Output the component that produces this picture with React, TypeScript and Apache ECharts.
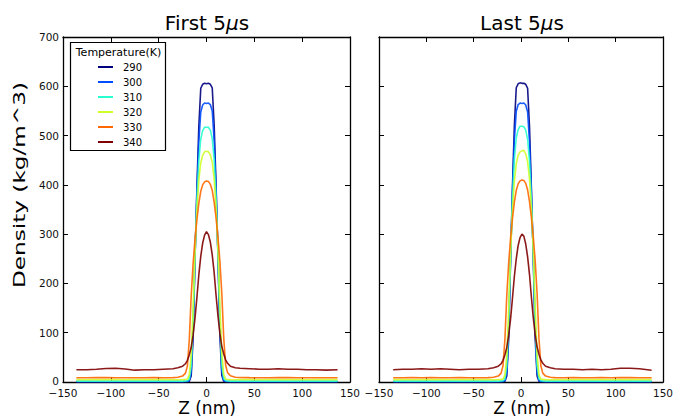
import React, { useEffect, useRef } from 'react';
import * as echarts from 'echarts';

const temps = ['290', '300', '310', '320', '330', '340'];
const colors = ['#00007f', '#004cff', '#29ffce', '#ceff29', '#ff6800', '#7f0000'];
const panelTitles = ['First 5', 'Last 5'];
const xLabel = 'Z (nm)';
const yLabel = 'Density (kg/m^3)';
const legendTitle = 'Temperature(K)';

const zFirst = [-136, -125, -115, -105, -95, -85, -75, -65, -55, -45, -35,
  -30, -25, -22, -20, -18, -16, -14, -12, -10, -8, -6, -4, -2, 0,
  2, 4, 6, 8, 10, 12, 14, 16, 18, 20, 22, 25, 30,
  35, 45, 55, 65, 75, 85, 95, 105, 115, 125, 137];

const zLast = [-135, -125, -115, -105, -95, -85, -75, -65, -55, -45, -35,
  -29, -24, -21, -19, -17, -15, -13, -11, -9, -7, -5, -3, -1, 1,
  3, 5, 7, 9, 11, 13, 15, 17, 19, 21, 23, 26, 31,
  36, 45, 55, 65, 75, 85, 95, 105, 115, 125, 138];

const first290 = [0.3, 0.3, 0.4, 0.3, 0.3, 0.3, 0.4, 0.3, 0.3, 0.3, 0.3,
  0.3, 0.3, 0.4, 0.5, 1.5, 12, 90, 250, 395, 520, 596, 604, 606, 605,
  606, 604, 597, 522, 398, 255, 95, 13, 1.6, 0.5, 0.4, 0.3, 0.3,
  0.3, 0.3, 0.3, 0.4, 0.3, 0.3, 0.3, 0.3, 0.4, 0.3, 0.3];
const first300 = [0.8, 0.8, 0.9, 0.8, 0.8, 0.8, 0.9, 0.8, 0.8, 0.8, 0.8,
  0.8, 0.8, 0.9, 1.2, 3, 20, 105, 255, 385, 488, 548, 562, 566, 565,
  566, 563, 550, 490, 388, 260, 110, 22, 3.2, 1.2, 0.9, 0.8, 0.8,
  0.8, 0.8, 0.8, 0.9, 0.8, 0.8, 0.8, 0.8, 0.9, 0.8, 0.8];
const first310 = [1.8, 1.8, 1.9, 1.8, 1.8, 1.8, 1.9, 1.8, 1.8, 1.8, 1.8,
  1.8, 1.8, 2, 2.5, 6, 32, 120, 260, 370, 450, 493, 510, 517, 517,
  517, 511, 494, 452, 373, 265, 125, 35, 6.5, 2.6, 2, 1.8, 1.8,
  1.8, 1.8, 1.9, 1.8, 1.8, 1.8, 1.9, 1.8, 1.8, 1.8, 1.8];
const first320 = [4.8, 4.7, 4.8, 4.9, 4.8, 4.7, 4.8, 4.8, 4.9, 4.8, 4.7,
  4.7, 4.8, 5.1, 6, 14, 55, 150, 265, 350, 410, 445, 460, 467, 468,
  467, 461, 446, 412, 353, 270, 155, 58, 15, 6.2, 5.2, 4.8, 4.7,
  4.8, 4.8, 4.7, 4.8, 4.9, 4.8, 4.8, 4.7, 4.8, 4.8, 4.8];
const first330 = [8.6, 8.7, 8.9, 8.8, 8.6, 8.7, 8.5, 8.6, 8.8, 8.7, 8.9,
  9.5, 12, 18, 32, 85, 175, 240, 290, 330, 363, 387, 400, 406, 408,
  407, 401, 389, 365, 333, 293, 245, 180, 90, 34, 19, 12.5, 9.6,
  9, 8.8, 8.7, 8.6, 8.8, 8.9, 8.7, 8.6, 8.5, 8.7, 8.6];
const first340 = [25, 25, 26, 27.5, 28, 26.5, 24, 25, 25, 26, 27,
  29, 32, 37, 44, 55, 70, 95, 130, 172, 218, 255, 282, 298, 305,
  299, 284, 258, 222, 176, 134, 98, 72, 57, 45, 38, 32, 29,
  28, 27, 26, 26, 27, 26, 26, 25, 25, 24, 25];

const last290 = [0.3, 0.3, 0.3, 0.4, 0.3, 0.3, 0.3, 0.3, 0.4, 0.3, 0.3,
  0.3, 0.3, 0.4, 0.5, 1.5, 12, 88, 248, 395, 520, 597, 605, 607, 606,
  606, 604, 596, 518, 392, 250, 90, 12, 1.5, 0.5, 0.4, 0.3, 0.3,
  0.3, 0.4, 0.3, 0.3, 0.3, 0.3, 0.4, 0.3, 0.3, 0.3, 0.3];
const last300 = [0.8, 0.8, 0.8, 0.9, 0.8, 0.8, 0.8, 0.8, 0.9, 0.8, 0.8,
  0.8, 0.8, 0.9, 1.2, 3, 20, 104, 252, 385, 490, 549, 563, 566, 565,
  566, 562, 548, 486, 382, 255, 105, 20, 3, 1.2, 0.9, 0.8, 0.8,
  0.8, 0.9, 0.8, 0.8, 0.8, 0.8, 0.9, 0.8, 0.8, 0.8, 0.8];
const last310 = [1.8, 1.8, 1.8, 1.9, 1.8, 1.8, 1.8, 1.9, 1.8, 1.8, 1.8,
  1.8, 1.8, 2, 2.5, 6, 32, 118, 258, 370, 452, 495, 512, 519, 519,
  518, 511, 492, 448, 368, 260, 122, 33, 6.2, 2.5, 2, 1.8, 1.8,
  1.8, 1.8, 1.9, 1.8, 1.8, 1.8, 1.8, 1.9, 1.8, 1.8, 1.8];
const last320 = [4.8, 4.8, 4.7, 4.8, 4.9, 4.8, 4.7, 4.8, 4.8, 4.9, 4.8,
  4.7, 4.8, 5.1, 6, 14, 54, 148, 262, 348, 408, 443, 460, 467, 469,
  470, 463, 447, 411, 352, 268, 152, 57, 14, 6, 5.1, 4.8, 4.7,
  4.8, 4.7, 4.8, 4.8, 4.9, 4.8, 4.7, 4.8, 4.8, 4.9, 4.8];
const last330 = [8.7, 8.6, 8.8, 8.7, 8.9, 8.6, 8.7, 8.8, 8.6, 8.7, 8.8,
  9.5, 12, 18, 33, 86, 176, 242, 292, 332, 365, 389, 402, 408, 410,
  409, 403, 390, 366, 334, 294, 246, 180, 88, 33, 18, 12, 9.5,
  8.9, 8.7, 8.8, 8.6, 8.7, 8.8, 8.6, 8.9, 8.8, 8.7, 8.6];
const last340 = [25, 26, 26, 27, 26, 27, 26, 25, 26, 26, 27,
  29, 32, 37, 44, 55, 70, 95, 128, 170, 214, 250, 277, 293, 300,
  296, 280, 254, 218, 172, 130, 96, 71, 56, 45, 38, 32, 29,
  27, 26, 26, 25, 26, 25, 26, 28, 28, 27, 24];

const firstValues = [first290, first300, first310, first320, first330, first340];
const lastValues = [last290, last300, last310, last320, last330, last340];

const FONT = 'DejaVu Sans';

export default function App() {
  const ref = useRef<HTMLDivElement>(null);
  useEffect(() => {
    document.body.style.margin = '0';
    const chart = echarts.init(ref.current as HTMLDivElement, undefined, { renderer: 'svg' });
    const axisLine = { show: true, onZero: false, lineStyle: { color: '#000', width: 1.3 } };
    const axisTick = { show: true, inside: true, length: 5, lineStyle: { color: '#000', width: 1 } };
    const labelStyle = { fontSize: 10.5, color: '#111', fontFamily: FONT };
    const fmt = (v: number) => String(v).replace('-', '\u2212');
    const yFmt = (v: number) => (v === 0 ? '{z|0}' : String(v));
    const xAxis = (grid: number, pos: string, labels: boolean) => ({
      type: 'value', gridIndex: grid, position: pos, min: -150, max: 150, interval: 50,
      axisLine, axisTick, splitLine: { show: false },
      axisLabel: { show: labels, margin: 6, lineHeight: 10, formatter: fmt, ...labelStyle },
    });
    const yAxis = (grid: number, pos: string, labels: boolean) => ({
      type: 'value', gridIndex: grid, position: pos, min: 0, max: 700, interval: 100,
      axisLine, axisTick, splitLine: { show: false },
      axisLabel: {
        show: labels, margin: 4, lineHeight: 8, formatter: yFmt, ...labelStyle,
        rich: { z: { fontSize: 10.5, fontFamily: FONT, color: '#111', lineHeight: 8, padding: [0, 0, 3, 0] } },
      },
    });
    const mkSeries = (z: number[], vals: number[][], axis: number) =>
      vals.map((v, i) => ({
        type: 'line', name: temps[i], xAxisIndex: axis, yAxisIndex: axis,
        data: z.map((zz, j) => [zz, v[j]]),
        symbol: 'none', showSymbol: false,
        lineStyle: { color: colors[i], width: 1.6, opacity: 0.9 },
        itemStyle: { color: colors[i] },
        z: 2 + i * 0.01,
      }));
    const titleStyle = (x: number, txt: string) => ({
      type: 'text', x, y: 23,
      style: {
        text: `{a|${txt}}{i|\u03bc}{a|s}`, align: 'center', verticalAlign: 'middle',
        rich: {
          a: { fontSize: 20, fontFamily: FONT, fill: '#000' },
          i: { fontSize: 20, fontFamily: FONT, fontStyle: 'italic', fill: '#000' },
        },
      },
    });
    const option = {
      animation: false,
      backgroundColor: '#fff',
      grid: [
        { left: 63, right: 326, top: 37, bottom: 38 },
        { left: 379, right: 10, top: 37, bottom: 38 },
      ],
      xAxis: [xAxis(0, 'bottom', true), xAxis(0, 'top', false), xAxis(1, 'bottom', true), xAxis(1, 'top', false)],
      yAxis: [yAxis(0, 'left', true), yAxis(0, 'right', false), yAxis(1, 'left', false), yAxis(1, 'right', false)],
      legend: {
        data: temps.map((t, i) => ({ name: t, icon: 'rect', itemStyle: { color: colors[i] } })),
        orient: 'vertical', left: 98, top: 60, padding: 0,
        itemWidth: 15, itemHeight: 2, itemGap: 1, z: 10,
        textStyle: { fontSize: 10, fontFamily: FONT, color: '#000', padding: [0, 0, 0, 5], lineHeight: 14 },
      },
      series: [...mkSeries(zFirst, firstValues, 0), ...mkSeries(zLast, lastValues, 2)],
      graphic: [
        {
          type: 'rect', z: 5, shape: { x: 70.5, y: 42.5, width: 95, height: 108 },
          style: { fill: '#fff', stroke: '#000', lineWidth: 1.2 },
        },
        {
          type: 'text', z: 11, x: 118.5, y: 52,
          style: { text: legendTitle, fontSize: 11, fontFamily: FONT, fill: '#000', align: 'center', verticalAlign: 'middle' },
        },
        titleStyle(207, panelTitles[0]),
        titleStyle(522, panelTitles[1]),
        {
          type: 'text', x: 207, y: 408,
          style: { text: xLabel, fontSize: 17, fontFamily: FONT, fill: '#000', align: 'center', verticalAlign: 'middle' },
        },
        {
          type: 'text', x: 522, y: 408,
          style: { text: xLabel, fontSize: 17, fontFamily: FONT, fill: '#000', align: 'center', verticalAlign: 'middle' },
        },
        {
          type: 'text', x: 20, y: 185, rotation: Math.PI / 2, scaleX: 1.45,
          style: { text: yLabel, fontSize: 16, fontFamily: FONT, fill: '#000', align: 'center', verticalAlign: 'middle' },
        },
      ],
    };
    chart.setOption(option as any);
    return () => chart.dispose();
  }, []);
  return <div ref={ref} style={{ width: 676, height: 420 }} />;
}
